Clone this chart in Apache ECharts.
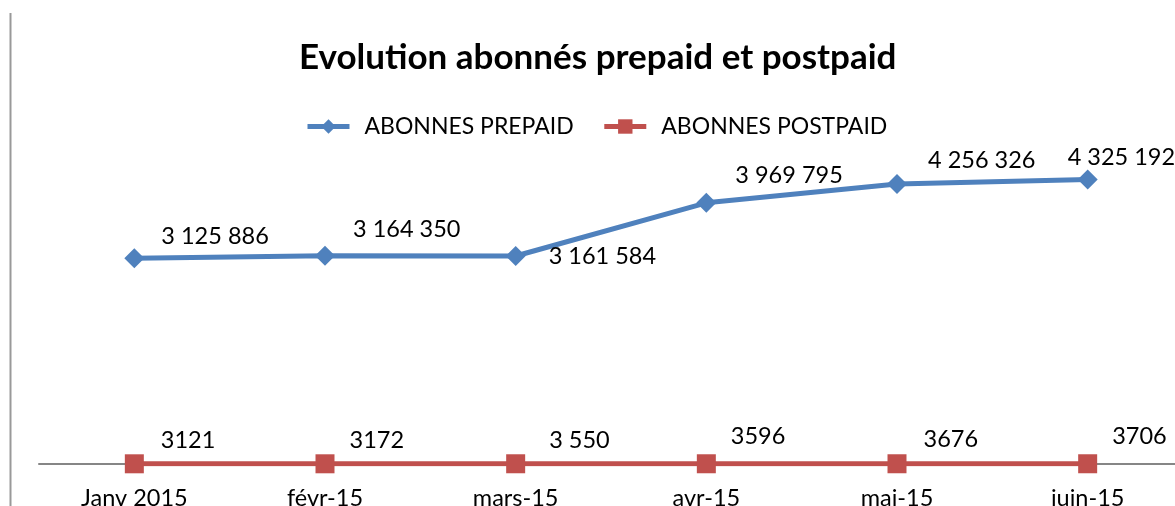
<!DOCTYPE html>
<html>
<head>
<meta charset="utf-8">
<script src="https://cdn.jsdelivr.net/npm/echarts@6/dist/echarts.min.js"></script>
<style>html,body{margin:0;padding:0;background:#fff}#c{width:1175px;height:506px}</style>
</head>
<body>
<div id="c"></div>
<script>
const categories = ['Janv 2015', 'févr-15', 'mars-15', 'avr-15', 'mai-15', 'juin-15'];
const prepaid = [3125886, 3164350, 3161584, 3969795, 4256326, 4325192];
const postpaid = [3121, 3172, 3550, 3596, 3676, 3706];
const prepaidLabels = ['3 125 886', '3 164 350', '3 161 584', '3 969 795', '4 256 326', '4 325 192'];
const postpaidLabels = ['3121', '3172', '3 550', '3596', '3676', '3706'];
const seriesNames = ['ABONNES PREPAID', 'ABONNES POSTPAID'];

// label placement (layout only)
const prepaidOffsets = [[17, -22], [18, -26], [23, 0], [19, -27], [21, -24], [-30, -22]];
const postpaidOffsets = [[17, -23], [15, -23], [24, -23], [15, -27], [17, -24], [15, -27]];

const FONT = 'Lato, "Open Sans", sans-serif';
function mk(vals, labels, offs) {
  return vals.map((v, i) => ({
    value: v,
    label: { formatter: labels[i], offset: offs[i] }
  }));
}
const chart = echarts.init(document.getElementById('c'), null, { renderer: 'canvas' });
chart.setOption({
  animation: false,
  textStyle: { fontFamily: FONT },
  title: {
    text: 'Evolution abonnés prepaid et postpaid',
    left: 294, top: 35,
    textStyle: { fontFamily: FONT, fontWeight: 'bold', fontSize: 35, color: '#000' }
  },
  legend: {
    top: 110, left: 300,
    itemWidth: 42, itemHeight: 18, itemGap: 28,
    lineStyle: { width: 5 },
    textStyle: { fontFamily: FONT, fontSize: 23, color: '#000', padding: [0, 0, 0, 10] },
    data: seriesNames
  },
  graphic: [{
    type: 'line', shape: { x1: 10.5, y1: 13, x2: 10.5, y2: 506 },
    style: { stroke: '#999', lineWidth: 2 }
  }],
  grid: { left: 39, right: -8, top: 135, bottom: 42, containLabel: false, outerBoundsMode: 'none' },
  xAxis: {
    type: 'category', data: categories, boundaryGap: true,
    axisLine: { lineStyle: { color: '#868686', width: 2 } },
    axisTick: { show: false },
    axisLabel: { color: '#000', fontSize: 23.5, fontFamily: FONT, margin: 22, interval: 0 }
  },
  yAxis: {
    type: 'value', min: 0, max: 5000000, show: false,
    splitLine: { show: false }
  },
  series: [{
    name: seriesNames[0], type: 'line', data: mk(prepaid, prepaidLabels, prepaidOffsets),
    symbol: 'diamond', symbolSize: 20,
    lineStyle: { color: '#4F81BD', width: 5 },
    itemStyle: { color: '#4F81BD' },
    label: { show: true, position: 'right', distance: 0, align: 'left', color: '#000', fontSize: 23.5, fontFamily: FONT }
  }, {
    name: seriesNames[1], type: 'line', data: mk(postpaid, postpaidLabels, postpaidOffsets),
    symbol: 'rect', symbolSize: 19,
    lineStyle: { color: '#C0504D', width: 5 },
    itemStyle: { color: '#C0504D' },
    label: { show: true, position: 'right', distance: 0, align: 'left', color: '#000', fontSize: 23.5, fontFamily: FONT }
  }]
});
</script>
</body>
</html>
